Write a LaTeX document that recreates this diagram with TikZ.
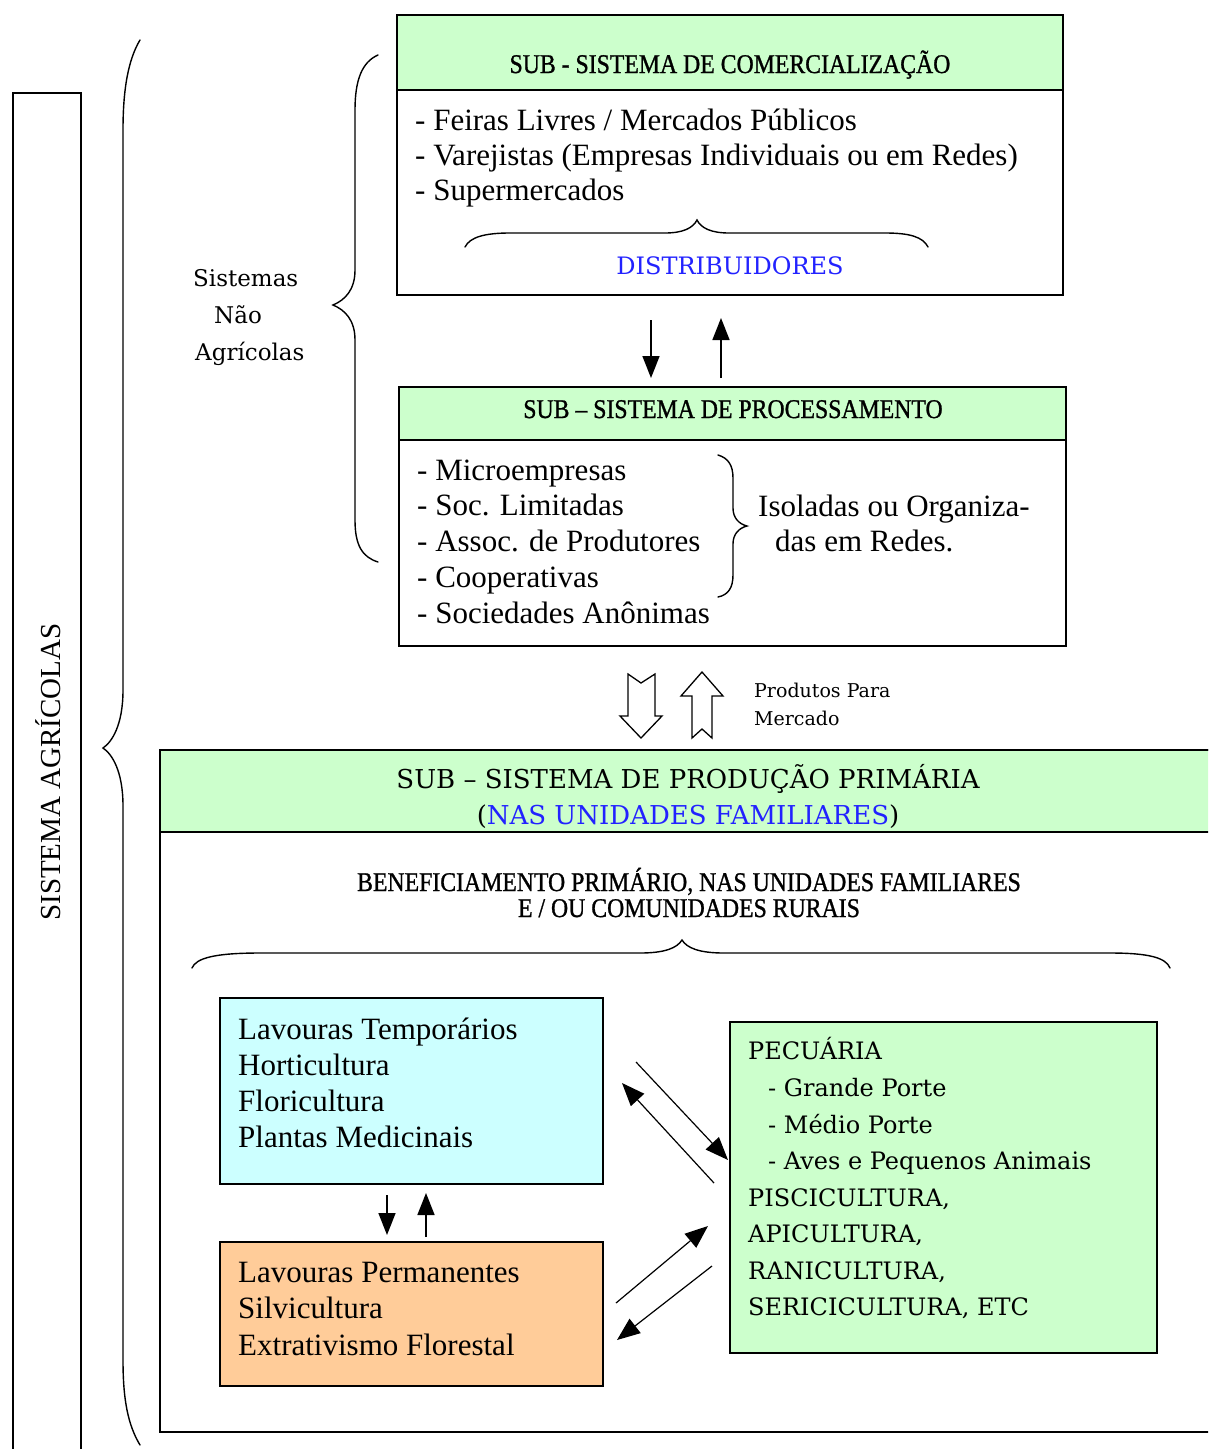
\documentclass[tikz,border=0pt]{standalone}
\usepackage{fontspec}
\setmainfont{Liberation Serif}
\newfontfamily\hdfont[FakeStretch=0.88,FakeBold=1]{Liberation Serif}
\newfontfamily\slab{DejaVu Serif}
\usetikzlibrary{arrows.meta,calc}
\definecolor{hdgreen}{HTML}{CCFFCC}
\definecolor{cyanbox}{HTML}{CCFFFF}
\definecolor{orangebox}{HTML}{FFCC99}
\definecolor{txtblue}{HTML}{2222FF}
\begin{document}
\begin{tikzpicture}[x=1pt,y=-1pt,
  box/.style={draw=black,line width=1.8pt,anchor=north west,inner sep=0pt,outer sep=0pt},
  hd/.style={box,fill=hdgreen},
  item/.style={anchor=base west,inner sep=0pt,font=\fontsize{31}{36}\selectfont},
  slabitem/.style={anchor=base west,inner sep=0pt,font=\slab\fontsize{24}{36}\selectfont},
  hdtext/.style={anchor=base,inner sep=0pt,font=\hdfont\fontsize{27}{30}\selectfont},
  arr/.style={line width=1.6pt,-{Triangle[length=22pt,width=17pt]}},
  diag/.style={line width=1.2pt,-{Triangle[length=23pt,width=18pt]}},
  brace/.style={line width=1.4pt,line cap=round},
  hollow/.style={line width=1.3pt,line join=miter}]
\useasboundingbox (0,0) rectangle (1208,1449);
\clip (0,0) rectangle (1208,1449);

% outer system column
\node[box,minimum width=68pt,minimum height=1380pt] (sys) at (13,93) {};
\node[rotate=90,inner sep=0pt,font=\fontsize{29}{30}\selectfont] (systxt) at (48,772) {SISTEMA AGRÍCOLAS};

% large brace grouping everything
\draw[brace] (140,40) .. controls (128,60) and (123,90) .. (123,130) -- (123,690)
  .. controls (123,725) and (112,742) .. (103,748)
  .. controls (112,754) and (123,771) .. (123,806) -- (123,1360)
  .. controls (123,1400) and (128,1425) .. (140,1445);

% non-agricultural systems brace and label
\draw[brace] (378,55) .. controls (362,62) and (355,80) .. (355,110) -- (355,270)
  .. controls (355,290) and (345,300) .. (333,305)
  .. controls (345,310) and (355,320) .. (355,340) -- (355,520)
  .. controls (355,545) and (362,557) .. (378,562);
\node[slabitem,font=\slab\fontsize{23}{30}\selectfont] (sna1) at (193,286) {Sistemas};
\node[slabitem,font=\slab\fontsize{23}{30}\selectfont] (sna2) at (214,323) {Não};
\node[slabitem,font=\slab\fontsize{23}{30}\selectfont] (sna3) at (195,360) {Agrícolas};

% commercialisation sub-system
\node[box,minimum width=666pt,minimum height=280pt] (com) at (397,15) {};
\node[hd,minimum width=666pt,minimum height=75pt] (comhd) at (397,15) {};
\node[hdtext] (comtitle) at (730,73) {SUB - SISTEMA DE COMERCIALIZAÇÃO};
\foreach \t [count=\i] in {{- Feiras Livres / Mercados Públicos},{- Varejistas (Empresas Individuais ou em Redes)},{- Supermercados}}
  \node[item] (comitem\i) at (415,{95+35*\i}) {\t};
\draw[brace] (465,247) .. controls (470,237) and (485,233) .. (510,233) -- (665,233)
  .. controls (683,233) and (693,228) .. (697,220)
  .. controls (701,228) and (711,233) .. (729,233) -- (885,233)
  .. controls (910,233) and (923,237) .. (928,247);
\node[anchor=base,inner sep=0pt,font=\slab\fontsize{24}{30}\selectfont,text=txtblue] (distr) at (730,274) {DISTRIBUIDORES};

% processing sub-system
\node[box,minimum width=667pt,minimum height=259pt] (proc) at (399,387) {};
\node[hd,minimum width=667pt,minimum height=53pt] (prochd) at (399,387) {};
\node[hdtext] (proctitle) at (733,418) {SUB – SISTEMA DE PROCESSAMENTO};
\foreach \t [count=\i] in {{- Microempresas},{- Soc. Limitadas},{- Assoc. de Produtores},{- Cooperativas},{- Sociedades Anônimas}}
  \node[item] (procitem\i) at (417,{444.25+35.75*\i}) {\t};
\draw[brace] (718,455) .. controls (728,458) and (733,465) .. (733,478) -- (733,508)
  .. controls (733,518) and (739,524) .. (747,526)
  .. controls (739,528) and (733,534) .. (733,544) -- (733,575)
  .. controls (733,588) and (728,595) .. (718,597);
\node[item] (iso1) at (758,516) {Isoladas ou Organiza-};
\node[item] (iso2) at (775,551) {das em Redes.};

% flows between commercialisation and processing
\draw[arr] ($(com.south)+(-79,25)$) -- ($(proc.north)+(-81.5,-9)$);
\draw[arr] ($(proc.north)+(-11.5,-9)$) -- ($(com.south)+(-9,23)$);

% hollow flow arrows towards the market
\draw[hollow] (628,674) -- (641,683) -- (655,674) -- (655,716) -- (662,716) -- (641,738)
  -- (620,716) -- (628,716) -- cycle;
\draw[hollow] (702,672) -- (723,696) -- (712,696) -- (712,738) -- (702,729) -- (692,738)
  -- (692,696) -- (681,696) -- cycle;
\node[slabitem,font=\slab\fontsize{19}{28}\selectfont] (prodmk1) at (754,697) {Produtos Para};
\node[slabitem,font=\slab\fontsize{19}{28}\selectfont] (prodmk2) at (754,725) {Mercado};

% primary production sub-system
\node[box,minimum width=1100pt,minimum height=682pt] (prod) at (160,750) {};
\node[hd,minimum width=1100pt,minimum height=82pt] (prodhd) at (160,750) {};
\node[anchor=base,inner sep=0pt,font=\slab\fontsize{26}{30}\selectfont] (prodtitle) at (688,788) {SUB – SISTEMA DE PRODUÇÃO PRIMÁRIA};
\node[anchor=base,inner sep=0pt,font=\slab\fontsize{26}{30}\selectfont] (prodsub) at (688,824) {(\textcolor{txtblue}{NAS UNIDADES FAMILIARES})};
\node[hdtext,font=\hdfont\fontsize{27}{27}\selectfont] (ben1) at (689,891) {BENEFICIAMENTO PRIMÁRIO, NAS UNIDADES FAMILIARES};
\node[hdtext,font=\hdfont\fontsize{27}{27}\selectfont] (ben2) at (689,917) {E / OU COMUNIDADES RURAIS};
\draw[brace] (192,968) .. controls (196,958) and (215,953) .. (260,953) -- (640,953)
  .. controls (665,953) and (677,948) .. (682,940)
  .. controls (687,948) and (699,953) .. (724,953) -- (1110,953)
  .. controls (1150,953) and (1166,958) .. (1170,968);

% crop groups
\node[box,fill=cyanbox,minimum width=383pt,minimum height=186pt] (cyan) at (220,998) {};
\foreach \t [count=\i] in {{Lavouras Temporários},{Horticultura},{Floricultura},{Plantas Medicinais}}
  \node[item] (cyanitem\i) at (238,{1003+36*\i}) {\t};
\node[box,fill=orangebox,minimum width=383pt,minimum height=144pt] (orange) at (220,1242) {};
\foreach \t [count=\i] in {{Lavouras Permanentes},{Silvicultura},{Extrativismo Florestal}}
  \node[item] (orangeitem\i) at (238,{1245.5+36.5*\i}) {\t};

% livestock and other activities
\node[box,fill=hdgreen,minimum width=427pt,minimum height=331pt] (green) at (730,1022) {};
\node[slabitem] (gr1) at (748,1059) {PECUÁRIA};
\node[slabitem] (gr2) at (768,1096) {- Grande Porte};
\node[slabitem] (gr3) at (768,1133) {- Médio Porte};
\node[slabitem] (gr4) at (768,1169) {- Aves e Pequenos Animais};
\node[slabitem] (gr5) at (748,1206) {PISCICULTURA,};
\node[slabitem] (gr6) at (748,1242) {APICULTURA,};
\node[slabitem] (gr7) at (748,1279) {RANICULTURA,};
\node[slabitem] (gr8) at (748,1315) {SERICICULTURA, ETC};

% flows inside primary production
\draw[arr] ($(cyan.south)+(-24.5,11)$) -- ($(orange.north)+(-24.5,-7)$);
\draw[arr] ($(orange.north)+(14.5,-5)$) -- ($(cyan.south)+(14.5,9)$);
\draw[diag] ($(cyan.east)+(33,-29)$) -- ($(green.west)+(-2,-27.5)$);
\draw[diag] ($(green.west)+(-16,-4.5)$) -- ($(cyan.east)+(19,-8)$);
\draw[diag] ($(orange.east)+(13,-11)$) -- ($(green.west)+(-22,38.5)$);
\draw[diag] ($(green.west)+(-18,78.5)$) -- ($(orange.east)+(14,26)$);
\end{tikzpicture}
\end{document}
